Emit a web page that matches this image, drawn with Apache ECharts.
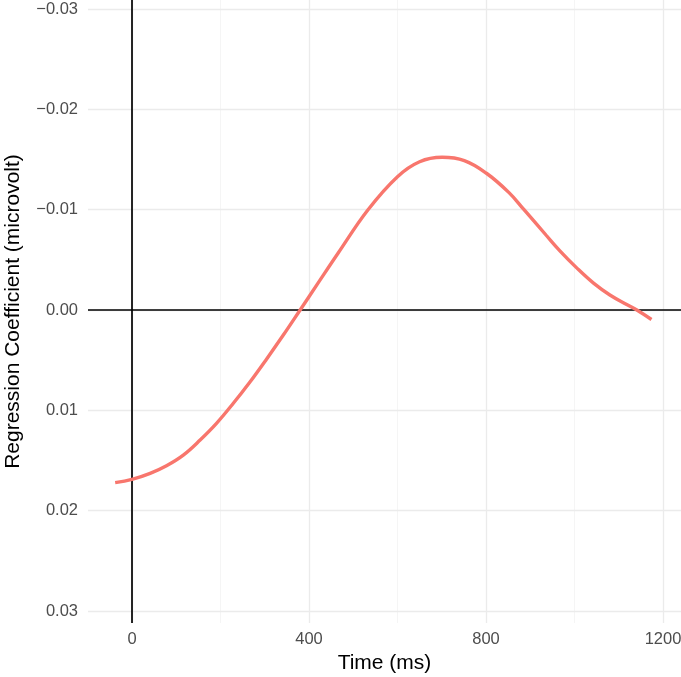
<!DOCTYPE html>
<html>
<head>
<meta charset="utf-8">
<script src="https://cdn.jsdelivr.net/npm/echarts@6/dist/echarts.min.js"></script>
<style>
html,body{margin:0;padding:0;background:#fff;}
#chart{width:681px;height:677px;}
</style>
</head>
<body>
<div id="chart"></div>
<script>
// Data
const timeMs = [-38, 0, 41, 78, 116, 154, 191, 229, 267, 304, 342, 380, 420, 466, 533, 600, 650, 701, 751, 801, 852, 885, 936, 967, 1005, 1043, 1080, 1118, 1141, 1174];
const coef = [0.01721, 0.01688, 0.01628, 0.01552, 0.01446, 0.01296, 0.01130, 0.00930, 0.00715, 0.00490, 0.00250, 0.00000, -0.00265, -0.00568, -0.00997, -0.01329, -0.01478, -0.01522, -0.01489, -0.01363, -0.01170, -0.01005, -0.00745, -0.00590, -0.00420, -0.00268, -0.00150, -0.00055, 0.00000, 0.00095];

const xTicks = [0, 400, 800, 1200];
const xMinor = [200, 600, 1000];
const yTicks = [-0.03, -0.02, -0.01, 0.00, 0.01, 0.02, 0.03];
const yMinor = [-0.025, -0.015, -0.005, 0.005, 0.015, 0.025];

const xTitle = 'Time (ms)';
const yTitle = 'Regression Coefficient (microvolt)';

const FONT = '"Liberation Sans", Arial, Helvetica, sans-serif';

const chart = echarts.init(document.getElementById('chart'), null, {renderer: 'canvas'});

function fmtY(v) {
  const s = Math.abs(v).toFixed(2);
  return (v < -1e-12 ? '\u2212' : '') + s;
}

const curveData = timeMs.map((t, i) => [t, coef[i]]);

const option = {
  animation: false,
  backgroundColor: '#ffffff',
  grid: {left: 88, right: 0, top: 0, bottom: 54, containLabel: false, outerBoundsMode: 'none'},
  xAxis: {
    type: 'value',
    min: -99.4,
    max: 1240.7,
    name: xTitle,
    nameLocation: 'middle',
    nameGap: 29.5,
    nameTextStyle: {color: '#000', fontSize: 21, fontFamily: FONT},
    axisLine: {show: false},
    axisTick: {show: false},
    splitLine: {show: false},
    axisLabel: {
      customValues: xTicks,
      color: '#4d4d4d', fontSize: 16.5, fontFamily: FONT, margin: 8,
      formatter: v => String(Math.round(v))
    }
  },
  yAxis: {
    type: 'value',
    inverse: true,
    min: -0.0309,
    max: 0.0312,
    name: yTitle,
    nameLocation: 'middle',
    nameGap: 64.5,
    nameTextStyle: {color: '#000', fontSize: 21, fontFamily: FONT},
    axisLine: {show: false},
    axisTick: {show: false},
    splitLine: {show: false},
    axisLabel: {
      customValues: yTicks,
      color: '#4d4d4d', fontSize: 16.5, fontFamily: FONT, margin: 10,
      formatter: fmtY
    }
  },
  series: [
    {
      type: 'line', data: [], silent: true, z: 1,
      markLine: {
        silent: true, symbol: 'none', z: 1, animation: false,
        label: {show: false},
        lineStyle: {color: '#f2f2f2', width: 0.8, type: 'solid'},
        data: xMinor.map(v => ({xAxis: v})).concat(yMinor.map(v => ({yAxis: v})))
      }
    },
    {
      type: 'line', data: [], silent: true, z: 1,
      markLine: {
        silent: true, symbol: 'none', z: 2, animation: false,
        label: {show: false},
        lineStyle: {color: '#ebebeb', width: 1.3, type: 'solid'},
        data: xTicks.map(v => ({xAxis: v})).concat(yTicks.map(v => ({yAxis: v})))
      }
    },
    {
      type: 'line', data: [], silent: true, z: 1,
      markLine: {
        silent: true, symbol: 'none', z: 3, animation: false,
        label: {show: false},
        lineStyle: {color: '#000000', width: 1.7, type: 'solid'},
        data: [{xAxis: 0}, {yAxis: 0}]
      }
    },
    {
      type: 'line',
      data: curveData,
      smooth: 0.4,
      showSymbol: false,
      z: 10,
      lineStyle: {color: '#F8766D', width: 3.4},
      silent: true
    }
  ]
};

chart.setOption(option);
</script>
</body>
</html>
